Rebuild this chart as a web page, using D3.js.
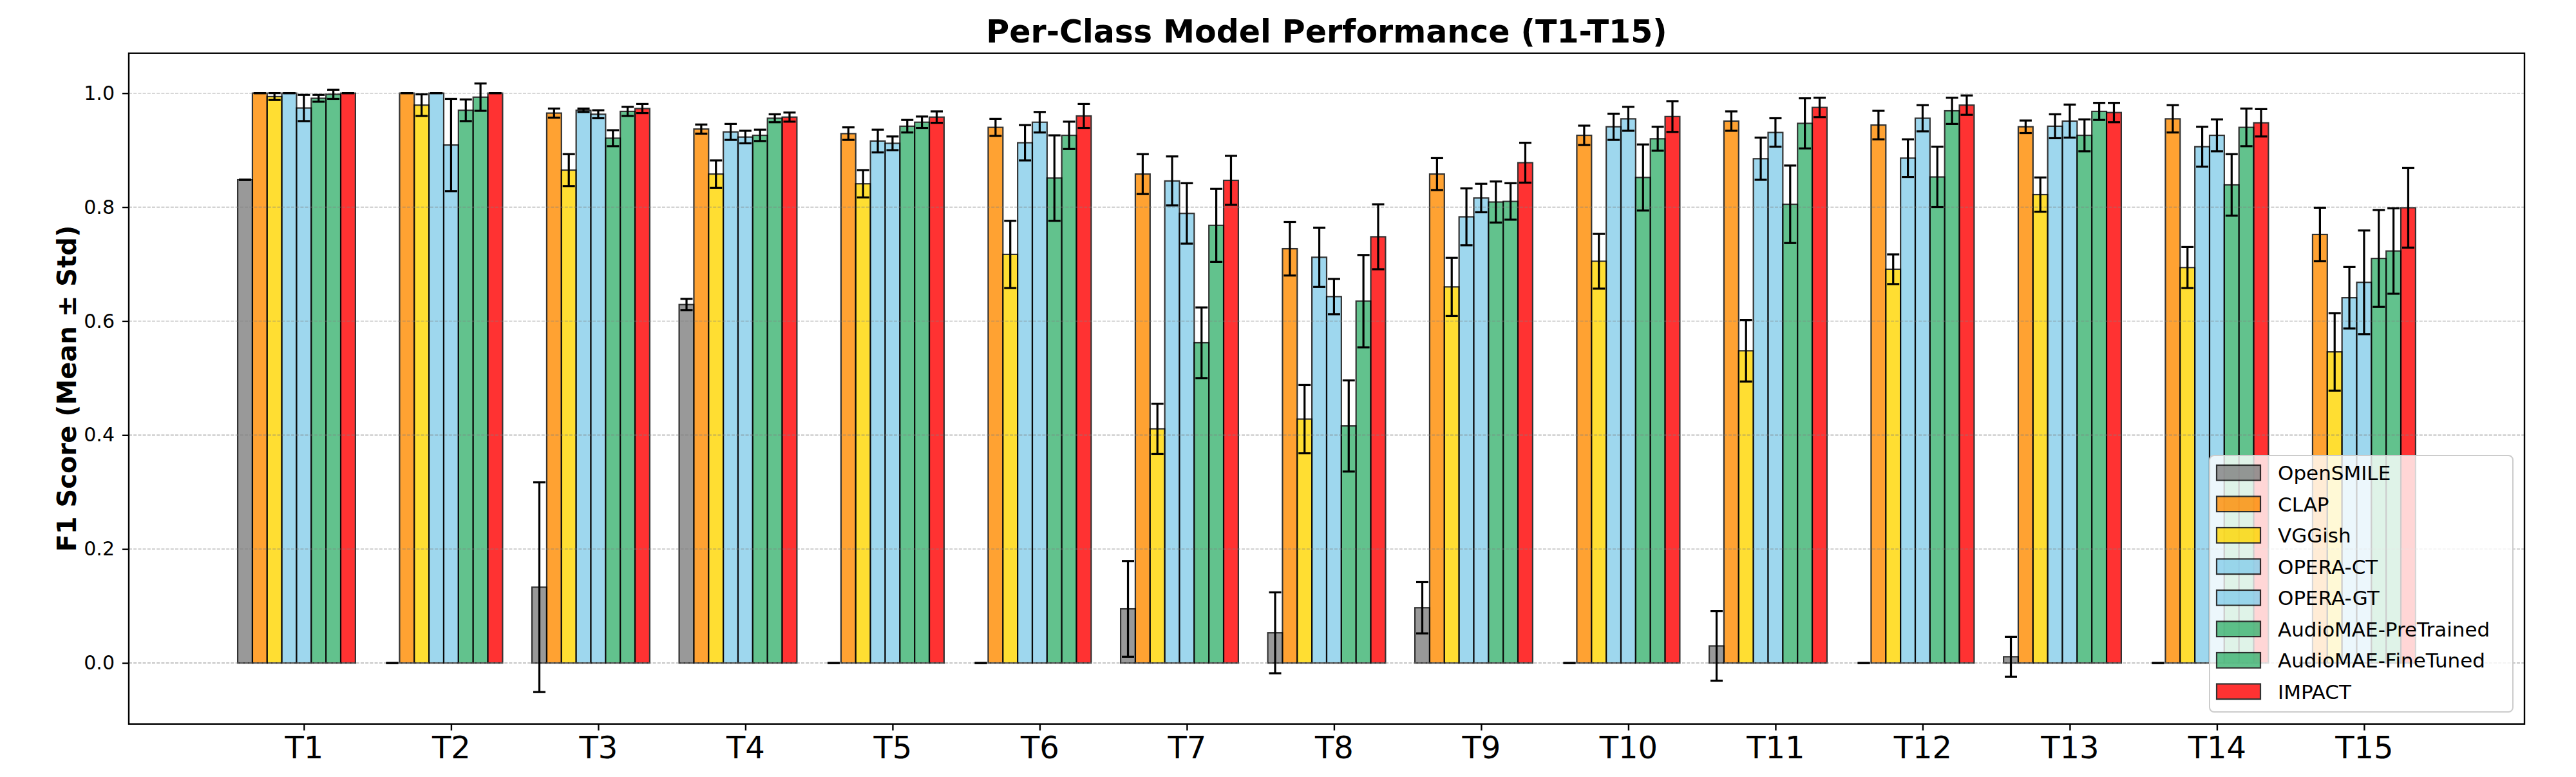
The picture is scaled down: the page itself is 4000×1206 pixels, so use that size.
<!DOCTYPE html>
<html>
<head>
<meta charset="utf-8">
<script src="https://cdn.jsdelivr.net/npm/d3@7"></script>
<style>
  body { margin: 0; background: #fff; }
  text { font-family: "DejaVu Sans", sans-serif; }
</style>
</head>
<body>
<div id="chart"></div>
<script>
// tasks on the x axis
let categories = ["T1","T2","T3","T4","T5","T6","T7","T8","T9","T10","T11","T12","T13","T14","T15"];

let models = ["OpenSMILE","CLAP","VGGish","OPERA-CT","OPERA-GT","AudioMAE-PreTrained","AudioMAE-FineTuned","IMPACT"];
let colors = ["#808080","#FF8C00","#FFD700","#87CEEB","#87CEEB","#3CB371","#3CB371","#FF0000"];

// mean F1 per task, one list per model
let openSmileMean = [0.848, 0, 0.133, 0.629, 0, 0, 0.095, 0.053, 0.097, 0, 0.030, 0, 0.011, 0, 0];
let clapMean      = [1.0, 1.0, 0.965, 0.937, 0.929, 0.940, 0.858, 0.727, 0.858, 0.926, 0.951, 0.944, 0.941, 0.955, 0.752];
let vggishMean    = [0.994, 0.979, 0.865, 0.858, 0.841, 0.717, 0.411, 0.428, 0.660, 0.705, 0.548, 0.691, 0.822, 0.694, 0.546];
let operaCtMean   = [1.0, 1.0, 0.970, 0.932, 0.916, 0.913, 0.846, 0.712, 0.783, 0.941, 0.885, 0.886, 0.942, 0.906, 0.641];
let operaGtMean   = [0.974, 0.909, 0.963, 0.923, 0.912, 0.949, 0.789, 0.643, 0.816, 0.955, 0.931, 0.956, 0.951, 0.926, 0.668];
let maePreMean    = [0.991, 0.970, 0.921, 0.926, 0.942, 0.851, 0.562, 0.416, 0.809, 0.852, 0.805, 0.853, 0.926, 0.839, 0.710];
let maeFineMean   = [0.998, 0.993, 0.968, 0.956, 0.949, 0.926, 0.768, 0.635, 0.810, 0.920, 0.947, 0.969, 0.968, 0.940, 0.723];
let impactMean    = [1.0, 1.0, 0.973, 0.958, 0.958, 0.960, 0.847, 0.748, 0.878, 0.959, 0.975, 0.979, 0.966, 0.948, 0.799];

// std per task
let openSmileStd = [0, 0, 0.184, 0.010, 0, 0, 0.084, 0.071, 0.045, 0, 0.061, 0, 0.035, 0, 0];
let clapStd      = [0, 0, 0.008, 0.008, 0.011, 0.015, 0.035, 0.047, 0.028, 0.017, 0.017, 0.025, 0.011, 0.024, 0.047];
let vggishStd    = [0.006, 0.019, 0.028, 0.024, 0.024, 0.059, 0.044, 0.060, 0.051, 0.048, 0.054, 0.026, 0.030, 0.036, 0.068];
let operaCtStd   = [0, 0, 0.003, 0.014, 0.020, 0.031, 0.043, 0.052, 0.050, 0.023, 0.037, 0.033, 0.021, 0.035, 0.054];
let operaGtStd   = [0.023, 0.081, 0.007, 0.011, 0.012, 0.018, 0.053, 0.031, 0.025, 0.021, 0.025, 0.023, 0.029, 0.028, 0.091];
let maePreStd    = [0.006, 0.019, 0.014, 0.010, 0.011, 0.075, 0.062, 0.080, 0.036, 0.058, 0.068, 0.053, 0.028, 0.054, 0.085];
let maeFineStd   = [0.008, 0.024, 0.008, 0.007, 0.010, 0.024, 0.064, 0.081, 0.032, 0.021, 0.044, 0.023, 0.015, 0.033, 0.075];
let impactStd    = [0, 0, 0.008, 0.008, 0.010, 0.021, 0.043, 0.057, 0.035, 0.027, 0.017, 0.017, 0.017, 0.024, 0.070];

let yTicks = [0.0, 0.2, 0.4, 0.6, 0.8, 1.0];

let means = [openSmileMean, clapMean, vggishMean, operaCtMean, operaGtMean, maePreMean, maeFineMean, impactMean];
let stds = [openSmileStd, clapStd, vggishStd, operaCtStd, operaGtStd, maePreStd, maeFineStd, impactStd];

let data = [];
models.forEach((m, j) => {
  categories.forEach((c, i) => {
    data.push({ model: j, task: i, mean: means[j][i], std: stds[j][i] });
  });
});

const width = 4000, height = 1206;
const plotLeft = 200, plotRight = 3920, plotTop = 82.7, plotBottom = 1123.7;
const barW = 0.1;

let svg = d3.select("#chart").append("svg")
  .attr("width", width)
  .attr("height", height);

let x = d3.scaleLinear().domain([-1.19, 15.09]).range([plotLeft, plotRight]);
let y = d3.scaleLinear().domain([-0.107, 1.070]).range([plotBottom, plotTop]);

let bw = x(barW) - x(0);

// bars
svg.append("g")
  .selectAll("rect")
  .data(data)
  .enter()
  .append("rect")
  .attr("x", d => x(d.task + (d.model - 4) * barW) - bw / 2)
  .attr("y", d => y(d.mean))
  .attr("width", bw)
  .attr("height", d => y(0) - y(d.mean))
  .attr("fill", d => colors[d.model])
  .attr("stroke", "#000")
  .attr("stroke-width", 2.2)
  .attr("opacity", 0.8);

// grid (sits above bars like matplotlib)
svg.append("g")
  .selectAll("line")
  .data(yTicks)
  .enter()
  .append("line")
  .attr("x1", plotLeft)
  .attr("x2", plotRight)
  .attr("y1", d => y(d))
  .attr("y2", d => y(d))
  .attr("stroke", "#808080")
  .attr("stroke-opacity", 0.6)
  .attr("stroke-width", 1.4)
  .attr("stroke-dasharray", "5,2.2");

// error bars
let err = svg.append("g")
  .attr("stroke", "#000")
  .attr("stroke-width", 3.2)
  .selectAll("g")
  .data(data)
  .enter()
  .append("g")
  .attr("transform", d => `translate(${x(d.task + (d.model - 4) * barW)},0)`);

err.append("line")
  .attr("y1", d => y(d.mean - d.std))
  .attr("y2", d => y(d.mean + d.std));
err.append("line")
  .attr("x1", -9.5).attr("x2", 9.5)
  .attr("y1", d => y(d.mean + d.std))
  .attr("y2", d => y(d.mean + d.std));
err.append("line")
  .attr("x1", -9.5).attr("x2", 9.5)
  .attr("y1", d => y(d.mean - d.std))
  .attr("y2", d => y(d.mean - d.std));

// axes
let yAxis = svg.append("g")
  .attr("transform", `translate(${plotLeft},0)`)
  .call(d3.axisLeft(y).tickValues(yTicks).tickFormat(d3.format(".1f")).tickSize(10).tickPadding(12));
yAxis.selectAll("text").attr("font-size", 30).attr("fill", "#000");

let xAxis = svg.append("g")
  .attr("transform", `translate(0,${plotBottom})`)
  .call(d3.axisBottom(x).tickValues(d3.range(categories.length)).tickFormat(i => categories[i]).tickSize(10).tickPadding(9));
xAxis.selectAll("text").attr("font-size", 48).attr("fill", "#000");

svg.selectAll(".domain").remove();
svg.selectAll(".tick line").attr("stroke", "#000").attr("stroke-width", 2.4);

svg.append("rect")
  .attr("x", plotLeft).attr("y", plotTop)
  .attr("width", plotRight - plotLeft).attr("height", plotBottom - plotTop)
  .attr("fill", "none")
  .attr("stroke", "#000")
  .attr("stroke-width", 2.4);

// title + y label
svg.append("text")
  .attr("x", (plotLeft + plotRight) / 2)
  .attr("y", 66)
  .attr("text-anchor", "middle")
  .attr("font-size", 49)
  .attr("font-weight", "bold")
  .text("Per-Class Model Performance (T1-T15)");

svg.append("text")
  .attr("transform", `translate(118,${(plotTop + plotBottom) / 2}) rotate(-90)`)
  .attr("text-anchor", "middle")
  .attr("font-size", 40)
  .attr("font-weight", "bold")
  .text("F1 Score (Mean \u00B1 Std)");

// legend, lower right
let lg = svg.append("g").attr("transform", "translate(3431,707)");
lg.append("rect")
  .attr("width", 471).attr("height", 398)
  .attr("rx", 7)
  .attr("fill", "#fff").attr("fill-opacity", 0.8)
  .attr("stroke", "#cccccc").attr("stroke-width", 2);

let item = lg.selectAll("g.item")
  .data(models)
  .enter()
  .append("g")
  .attr("class", "item")
  .attr("transform", (d, i) => `translate(0,${26.8 + i * 48.5})`);

item.append("rect")
  .attr("x", 11).attr("y", -11.8)
  .attr("width", 68).attr("height", 23.6)
  .attr("fill", (d, i) => colors[i])
  .attr("stroke", "#000")
  .attr("stroke-width", 2.2)
  .attr("opacity", 0.8);

item.append("text")
  .attr("x", 106)
  .attr("y", 11.3)
  .attr("font-size", 31)
  .attr("fill", "#000")
  .text(d => d);
</script>
</body>
</html>
